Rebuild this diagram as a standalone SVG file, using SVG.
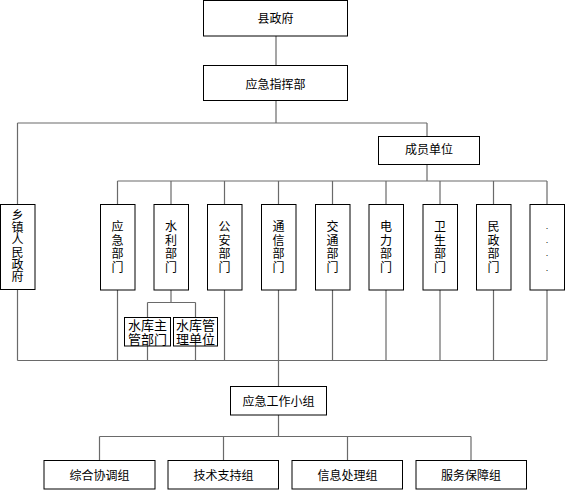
<svg xmlns="http://www.w3.org/2000/svg" width="567" height="491" viewBox="0 0 567 491">
<style>
.bx{fill:#fff;stroke:#000;stroke-width:1}
.t{font-family:"Noto Sans CJK SC","Liberation Sans",sans-serif;font-size:12px;fill:#000;text-anchor:middle}
.v{font-family:"Noto Sans CJK SC","Liberation Sans",sans-serif;font-size:12px;fill:#000;text-anchor:middle;writing-mode:vertical-rl;letter-spacing:1.7px}
.v6{letter-spacing:0.3px}
.d{font-family:"Liberation Sans",sans-serif;font-size:9px;fill:#000;text-anchor:middle}
.t14{font-family:"Noto Sans CJK SC","Liberation Sans",sans-serif;font-size:13px;fill:#000;text-anchor:middle}
.c{fill:none;stroke:#6a6a6a;stroke-width:1.2}
</style>
<rect width="567" height="491" fill="#fff"/>
<g id="connectors">
<path class="c" d="M276 36 V65.5 M276 100.5 V123 M17.5 123 H427 M17.5 123 V204.5 M427 123 V136.5 M427 164.5 V181 M117.5 181 H547"/>
<path class="c" d="M117.5 181 V204.5 M171 181 V204.5 M224.5 181 V204.5 M278.5 181 V204.5 M332.5 181 V204.5 M386 181 V204.5 M440 181 V204.5 M493.5 181 V204.5 M547 181 V204.5"/>
<path class="c" d="M17.5 290 V360.5 M117.5 290 V360.5 M224.5 290 V360.5 M278.5 290 V386.5 M332.5 290 V360.5 M386 290 V360.5 M440 290 V360.5 M493.5 290 V360.5 M547 290 V360.5 M17.5 360.5 H547"/>
<path class="c" d="M171 290 V302.5 M147.5 302.5 H195.5 M147.5 302.5 V317.5 M195.5 302.5 V317.5 M147.5 346 V360.5 M195.5 346 V360.5"/>
<path class="c" d="M278.5 415 V436.5 M99.5 436.5 H471 M99.5 436.5 V460.5 M223.5 436.5 V460.5 M347.5 436.5 V460.5 M471 436.5 V460.5"/>
</g>
<g id="n-county">
<rect class="bx" x="203.5" y="0.5" width="144" height="35.5"/>
<text class="t" x="275.5" y="23">县政府</text>
</g>
<g id="n-command">
<rect class="bx" x="203.5" y="65.5" width="144" height="35"/>
<text class="t" x="275.5" y="88.5">应急指挥部</text>
</g>
<g id="n-members">
<rect class="bx" x="378.5" y="136.5" width="101" height="28"/>
<text class="t" x="429" y="154">成员单位</text>
</g>
<g id="n-township">
<rect class="bx" x="0.5" y="204.5" width="34.5" height="85"/>
<text class="v v6" x="17.5" y="246">乡镇人民政府</text>
</g>
<g id="n-emergency">
<rect class="bx" x="100.5" y="204.5" width="34.5" height="85.5"/>
<text class="v" x="117.5" y="247.8">应急部门</text>
</g>
<g id="n-water">
<rect class="bx" x="154" y="204.5" width="34.5" height="85.5"/>
<text class="v" x="171" y="247.8">水利部门</text>
</g>
<g id="n-police">
<rect class="bx" x="207.5" y="204.5" width="34.5" height="85.5"/>
<text class="v" x="224.5" y="247.8">公安部门</text>
</g>
<g id="n-telecom">
<rect class="bx" x="261.5" y="204.5" width="34.5" height="85.5"/>
<text class="v" x="278.5" y="247.8">通信部门</text>
</g>
<g id="n-traffic">
<rect class="bx" x="315.5" y="204.5" width="34.5" height="85.5"/>
<text class="v" x="332.5" y="247.8">交通部门</text>
</g>
<g id="n-power">
<rect class="bx" x="369" y="204.5" width="34.5" height="85.5"/>
<text class="v" x="386" y="247.8">电力部门</text>
</g>
<g id="n-health">
<rect class="bx" x="423" y="204.5" width="34.5" height="85.5"/>
<text class="v" x="440" y="247.8">卫生部门</text>
</g>
<g id="n-civil">
<rect class="bx" x="476.5" y="204.5" width="34.5" height="85.5"/>
<text class="v" x="493.5" y="247.8">民政部门</text>
</g>
<g id="n-more">
<rect class="bx" x="530" y="204.5" width="34.5" height="85.5"/>
<text class="d" x="547" y="229">.</text>
<text class="d" x="547" y="242.7">.</text>
<text class="d" x="547" y="256.4">.</text>
<text class="d" x="547" y="270.5">.</text>
</g>
<g id="n-reservoir-dept">
<rect class="bx" x="124.5" y="317.5" width="46" height="28.5"/>
<text class="t14" x="147.5" y="330"><tspan x="147.5">水库主</tspan><tspan x="147.5" dy="14">管部门</tspan></text>
</g>
<g id="n-reservoir-unit">
<rect class="bx" x="173.5" y="317.5" width="44" height="28.5"/>
<text class="t14" x="195.5" y="330"><tspan x="195.5">水库管</tspan><tspan x="195.5" dy="14">理单位</tspan></text>
</g>
<g id="n-workgroup">
<rect class="bx" x="230.5" y="386.5" width="96" height="28.5"/>
<text class="t" x="278.5" y="406">应急工作小组</text>
</g>
<g id="n-coord">
<rect class="bx" x="44" y="460.5" width="111" height="28.5"/>
<text class="t" x="99.5" y="479.5">综合协调组</text>
</g>
<g id="n-tech">
<rect class="bx" x="168" y="460.5" width="110.5" height="28.5"/>
<text class="t" x="223.5" y="479.5">技术支持组</text>
</g>
<g id="n-info">
<rect class="bx" x="292" y="460.5" width="110.5" height="28.5"/>
<text class="t" x="347.5" y="479.5">信息处理组</text>
</g>
<g id="n-service">
<rect class="bx" x="416" y="460.5" width="110.5" height="28.5"/>
<text class="t" x="471" y="479.5">服务保障组</text>
</g>
</svg>
